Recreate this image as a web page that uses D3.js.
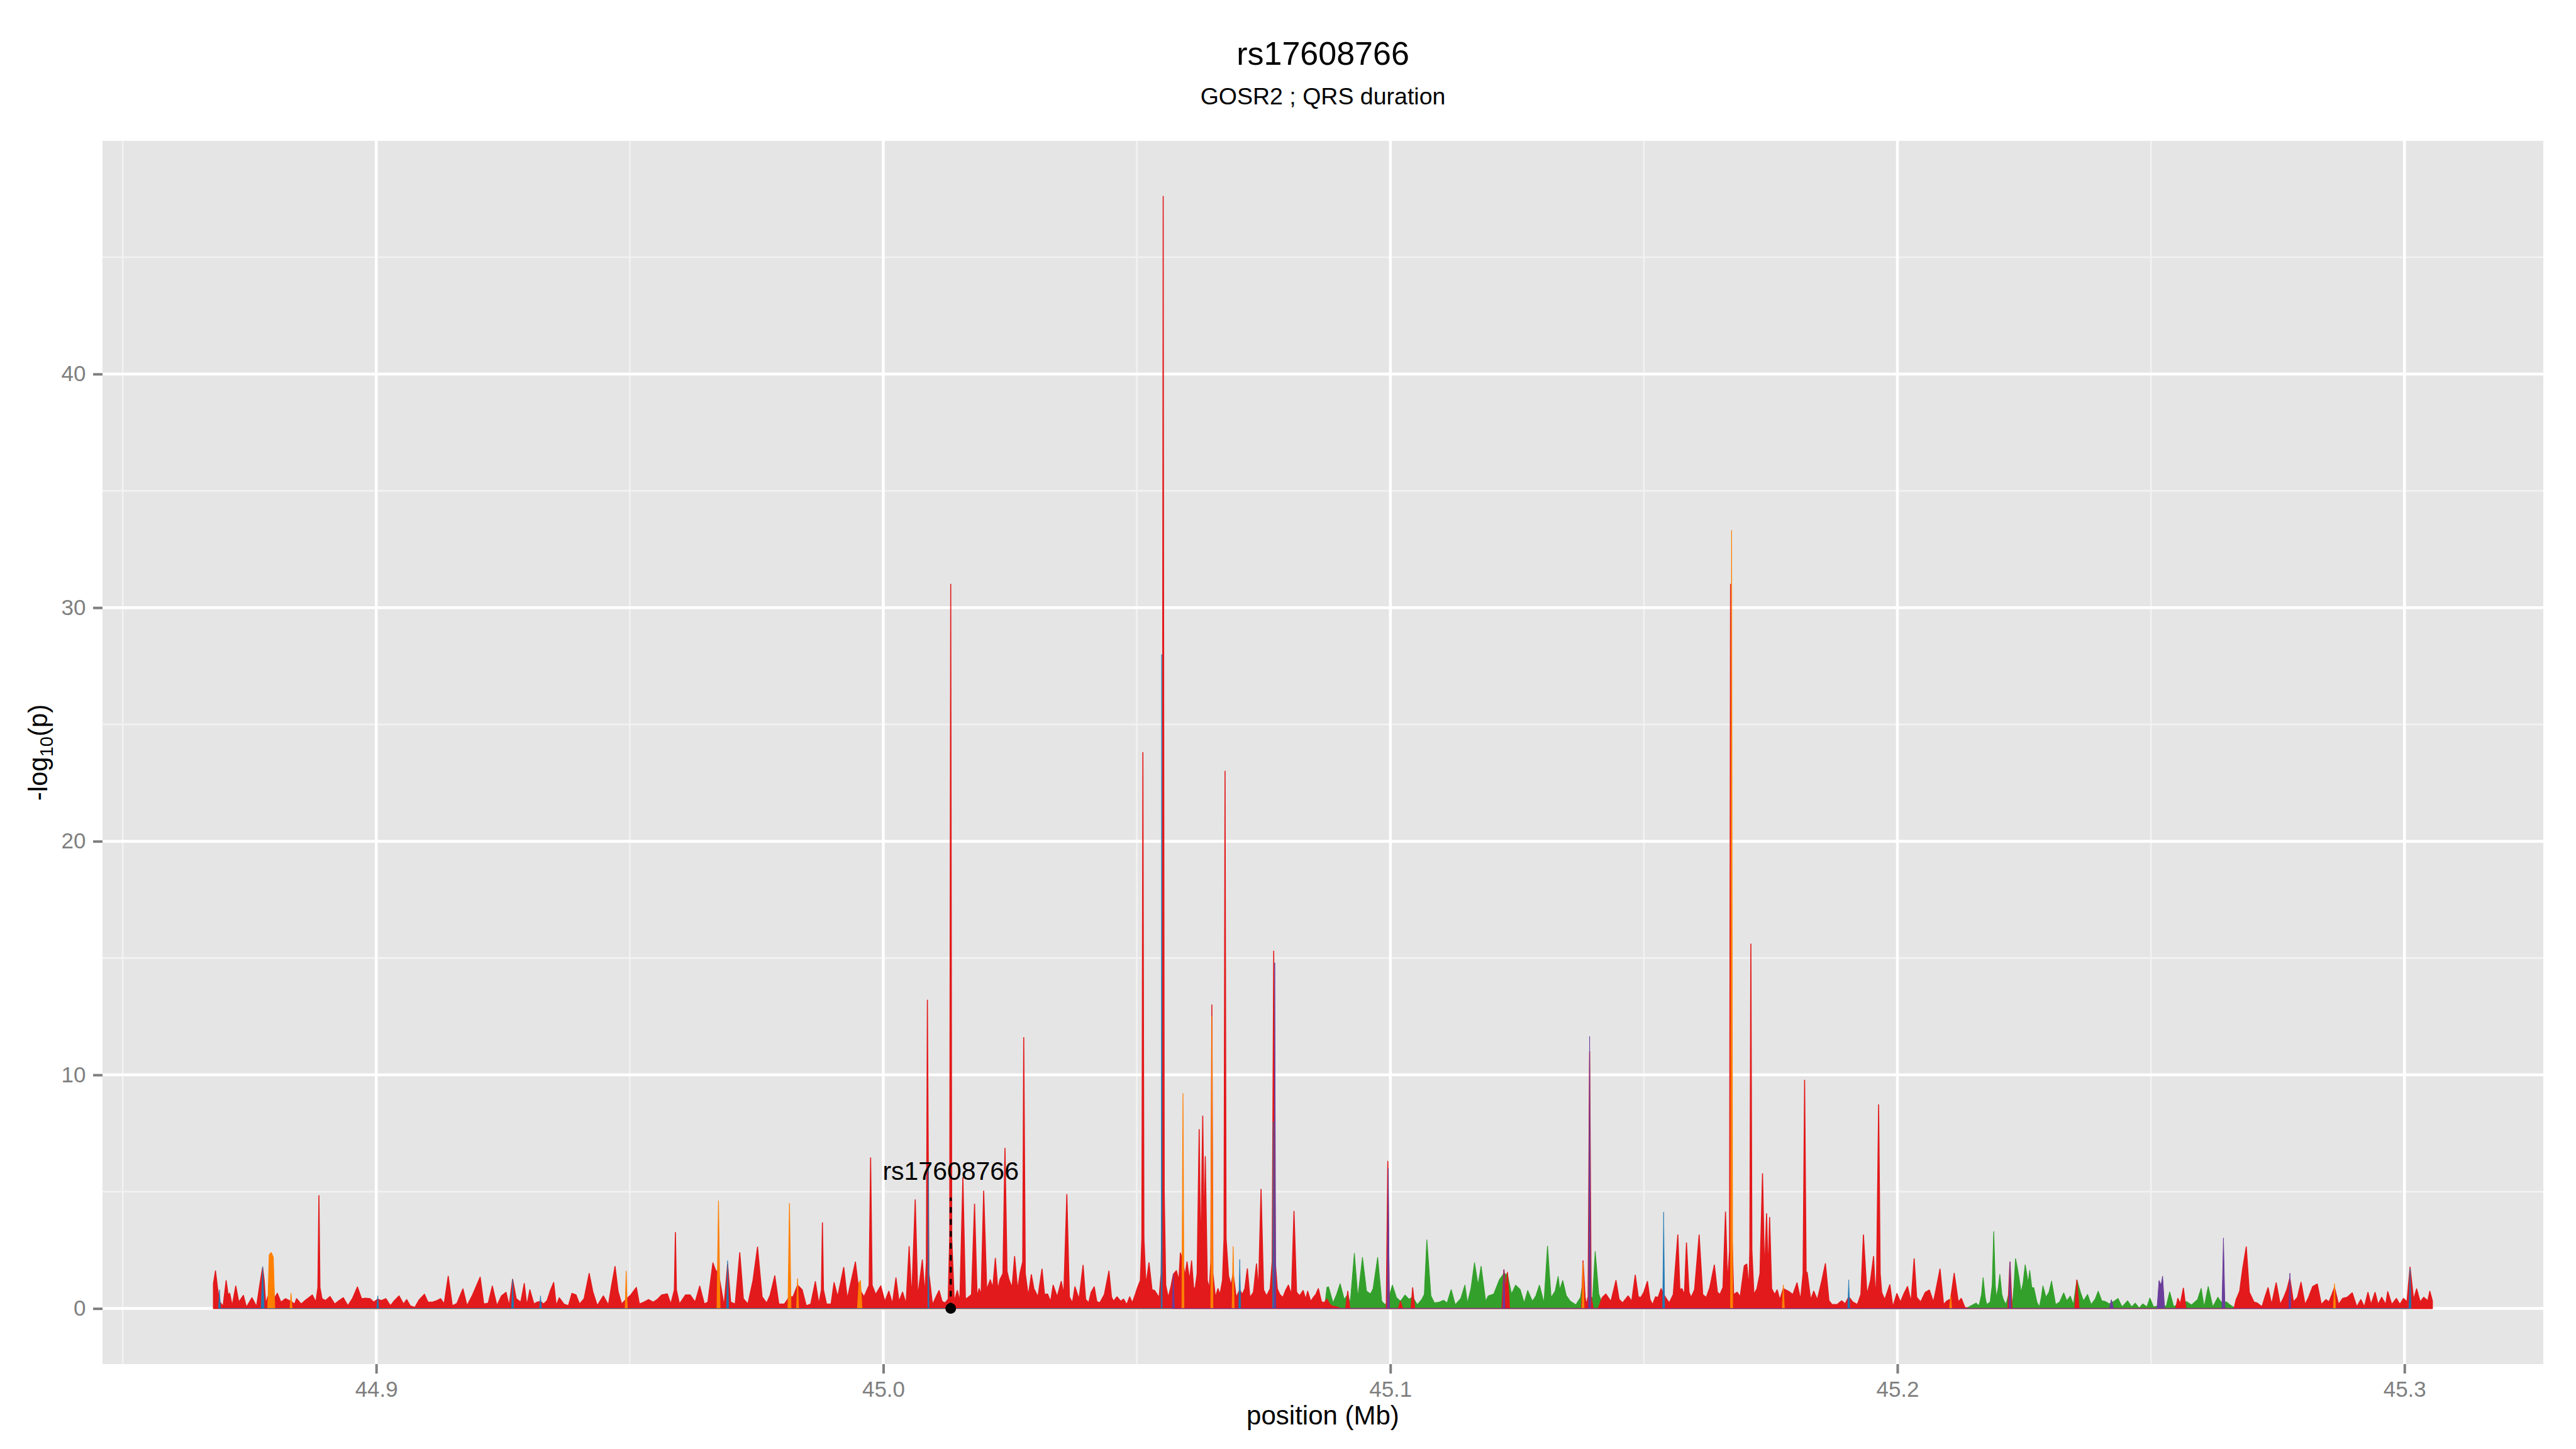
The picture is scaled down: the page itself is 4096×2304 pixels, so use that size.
<!DOCTYPE html>
<html>
<head>
<meta charset="utf-8">
<script src="https://cdn.jsdelivr.net/npm/d3@7"></script>
<style>
  body { margin: 0; background: #fff; }
  svg { display: block; font-family: "Liberation Sans", Arial, Helvetica, sans-serif; }
</style>
</head>
<body>
<div id="chart"></div>
<script>
const titleText = "rs17608766";
const subtitleText = "GOSR2 ; QRS duration";
const xTitle = "position (Mb)";
const snpName = "rs17608766";
const snpPos = 45.0133;
const snpLabelY = 5.9;
const snpLineTop = 4.75;

const xTicks = [44.9, 45.0, 45.1, 45.2, 45.3];
const xMinor = [44.85, 44.95, 45.05, 45.15, 45.25];
const yTicks = [0, 10, 20, 30, 40];
const yMinor = [5, 15, 25, 35, 45];

// [position (Mb), -log10(p)]
const greenSeries = [
  [45.0870,0],[45.0875,0.9],[45.0878,0.93],[45.0887,0.24],[45.0894,0.6],[45.0901,1.06],[45.0909,0.39],[45.0916,0.6],
  [45.0921,0.24],[45.0929,2.36],[45.0936,0.47],[45.0945,2.19],[45.0953,0.74],[45.0961,0.62],[45.0966,0.85],[45.0975,2.19],
  [45.0983,0.31],[45.0990,0.16],[45.0995,0.3],[45.1004,1.0],[45.1012,0.47],[45.1020,0.31],[45.1029,0.58],[45.1037,0.39],
  [45.1044,0.5],[45.1053,0.16],[45.1062,0.39],[45.1067,0.6],[45.1072,2.94],[45.1080,0.54],[45.1087,0.24],[45.1096,0.27],
  [45.1105,0.35],[45.1112,0.24],[45.1120,0.81],[45.1128,0.16],[45.1139,0.43],[45.1147,1.0],[45.1152,0.24],[45.1159,0.85],
  [45.1166,1.96],[45.1173,1.0],[45.1179,1.81],[45.1188,0.31],[45.1193,0.54],[45.1204,0.62],[45.1215,1.23],[45.1224,1.5],
  [45.1231,1.45],[45.1239,0.62],[45.1247,1.0],[45.1256,0.81],[45.1264,0.24],[45.1271,0.77],[45.1280,0.31],[45.1287,0.54],
  [45.1294,1.0],[45.1303,0.24],[45.1310,2.67],[45.1317,0.47],[45.1325,0.74],[45.1331,1.37],[45.1334,0.8],[45.1340,1.2],
  [45.1347,0.55],[45.1355,0.31],[45.1366,0.16],[45.1375,0.47],[45.1380,1.2],[45.1386,0.16],[45.1393,0.5],[45.1399,0.47],
  [45.1404,2.44],[45.1411,0.62],[45.1418,0.2],[45.1422,0],
  [45.2133,0],[45.2141,0.07],[45.2148,0.15],[45.2155,0.23],[45.2161,0.12],[45.2166,0.6],[45.2169,1.32],[45.2173,0.5],
  [45.2176,0.17],[45.2183,0.28],[45.2187,1.0],[45.2190,3.29],[45.2193,1.0],[45.2195,0.48],[45.2199,0.9],[45.2202,1.46],
  [45.2206,0.6],[45.2209,0.38],[45.2214,0.17],[45.2222,0.8],[45.2227,0.17],[45.2230,1.0],[45.2233,2.13],[45.2236,1.8],
  [45.2240,1.3],[45.2244,0.69],[45.2248,1.1],[45.2252,1.87],[45.2258,1.1],[45.2261,1.63],[45.2265,0.9],[45.2269,0.89],
  [45.2275,0.28],[45.2280,0.07],[45.2284,0.5],[45.2287,0.97],[45.2293,0.48],[45.2299,0.7],[45.2304,1.17],[45.2312,0.17],
  [45.2320,0.28],[45.2328,0.67],[45.2334,0.33],[45.2341,0.53],[45.2347,0.17],[45.2354,1.22],[45.2361,0.69],[45.2367,0.33],
  [45.2375,0.6],[45.2382,0.17],[45.2390,0.4],[45.2396,0.74],[45.2403,0.33],[45.2410,0.3],[45.2418,0.2],[45.2429,0.33],
  [45.2435,0.43],[45.2443,0.07],[45.2454,0.33],[45.2462,0.07],[45.2469,0.23],[45.2477,0.02],[45.2484,0.2],[45.2492,0.07],
  [45.2498,0.45],[45.2505,0.07],[45.2512,0.1],[45.2518,0.3],[45.2530,0.07],[45.2537,0.71],[45.2545,0.07],[45.2553,0.2],
  [45.2560,0.1],[45.2570,0.3],[45.2580,0.15],[45.2592,0.38],[45.2599,0.86],[45.2605,0.07],[45.2613,0.94],[45.2622,0.07],
  [45.2632,0.48],[45.2638,0.28],[45.2649,0.28],[45.2655,0.17],[45.2662,0.07],[45.2668,0]
];

const redSeries = [
  [44.8679,1.07],[44.8683,1.61],[44.8687,0.88],[44.8691,0.3],[44.8698,0.1],[44.8704,1.19],[44.8708,0.58],[44.8711,0.65],
  [44.8716,0.12],[44.8723,0.96],[44.8729,0.27],[44.8738,0.56],[44.8744,0.05],[44.8755,0.46],[44.8764,0.08],[44.8770,0.96],
  [44.8774,1.5],[44.8776,1.75],[44.8779,1.2],[44.8782,0.19],[44.8786,0.5],[44.8793,0.3],[44.8799,0.42],[44.8805,0.65],
  [44.8812,0.27],[44.8821,0.42],[44.8832,0.3],[44.8839,0.19],[44.8843,0.42],[44.8852,0.19],[44.8861,0.36],[44.8874,0.58],
  [44.8881,0.27],[44.8885,0.9],[44.8887,4.83],[44.8889,0.9],[44.8893,0.42],[44.8900,0.34],[44.8909,0.51],[44.8918,0.19],
  [44.8927,0.34],[44.8935,0.46],[44.8944,0.12],[44.8953,0.42],[44.8963,0.92],[44.8971,0.42],[44.8979,0.44],[44.8988,0.42],
  [44.8995,0.27],[44.9003,0.4],[44.9010,0.34],[44.9019,0.42],[44.9028,0.12],[44.9036,0.34],[44.9045,0.54],[44.9054,0.19],
  [44.9060,0.38],[44.9067,0.12],[44.9076,0.04],[44.9085,0.38],[44.9095,0.61],[44.9102,0.27],[44.9111,0.27],[44.9120,0.34],
  [44.9127,0.42],[44.9134,0.19],[44.9142,1.38],[44.9150,0.12],[44.9159,0.21],[44.9171,0.84],[44.9179,0.12],[44.9190,0.58],
  [44.9205,1.34],[44.9212,0.19],[44.9221,0.23],[44.9229,0.96],[44.9238,0.12],[44.9247,0.54],[44.9256,0.69],[44.9262,0.12],
  [44.9269,1.25],[44.9276,0.42],[44.9285,0.27],[44.9292,1.07],[44.9297,0.12],[44.9303,0.8],[44.9311,0.19],[44.9317,0.27],
  [44.9324,0.3],[44.9330,0.19],[44.9337,0.34],[44.9344,0.8],[44.9350,1.11],[44.9355,0.12],[44.9361,0.46],[44.9370,0.19],
  [44.9379,0.12],[44.9386,0.65],[44.9394,0.58],[44.9401,0.19],[44.9410,0.42],[44.9420,1.5],[44.9427,0.73],[44.9436,0.12],
  [44.9440,0.27],[44.9448,0.54],[44.9458,0.15],[44.9464,0.96],[44.9471,1.8],[44.9477,0.73],[44.9484,0.19],[44.9493,0.4],
  [44.9502,0.58],[44.9513,0.9],[44.9519,0.19],[44.9528,0.27],[44.9537,0.38],[44.9546,0.27],[44.9554,0.38],[44.9563,0.58],
  [44.9574,0.63],[44.9581,0.19],[44.9588,0.8],[44.9590,3.25],[44.9592,0.8],[44.9598,0.19],[44.9610,0.58],[44.9619,0.58],
  [44.9629,0.27],[44.9638,0.96],[44.9647,0.19],[44.9654,0.27],[44.9664,1.95],[44.9669,1.65],[44.9675,1.5],[44.9680,0.88],
  [44.9686,0.12],[44.9693,1.9],[44.9699,0.27],[44.9708,0.19],[44.9717,2.39],[44.9724,0.42],[44.9733,0.19],[44.9743,1.19],
  [44.9752,2.63],[44.9761,0.5],[44.9770,0.23],[44.9777,0.58],[44.9786,1.4],[44.9794,0.19],[44.9805,0.19],[44.9815,0.5],
  [44.9822,0.5],[44.9831,1.0],[44.9840,0.8],[44.9848,0.12],[44.9857,0.19],[44.9866,1.15],[44.9873,0.19],[44.9878,0.8],
  [44.9880,3.67],[44.9882,0.8],[44.9888,0.19],[44.9897,0.19],[44.9903,1.11],[44.9910,0.5],[44.9922,1.76],[44.9929,0.42],
  [44.9936,1.11],[44.9945,1.99],[44.9951,0.9],[44.9962,0.5],[44.9972,1.0],[44.9975,6.45],[44.9978,1.0],[44.9985,0.6],
  [44.9995,0.97],[45.0003,0.3],[45.0011,0.74],[45.0018,0.2],[45.0025,1.31],[45.0031,0.3],[45.0038,0.7],[45.0045,0.2],
  [45.0051,2.65],[45.0056,0.4],[45.0063,4.65],[45.0068,0.5],[45.0077,2.08],[45.0082,0.6],[45.0085,2.0],[45.0087,13.2],
  [45.0090,1.5],[45.0097,0.16],[45.0104,0.5],[45.0110,0.77],[45.0116,0.3],[45.0122,0.24],[45.0128,0.4],[45.0131,3.0],
  [45.0133,31.0],[45.0135,3.0],[45.0140,0.3],[45.0146,0.77],[45.0151,0.3],[45.0157,5.6],[45.0162,0.4],[45.0167,0.47],
  [45.0174,0.6],[45.0180,4.47],[45.0185,0.5],[45.0189,0.85],[45.0193,0.6],[45.0198,5.03],[45.0204,0.8],[45.0211,1.23],
  [45.0216,0.9],[45.0221,2.15],[45.0226,0.8],[45.0230,1.23],[45.0236,1.5],[45.0240,6.86],[45.0244,1.6],[45.0248,1.23],
  [45.0254,0.9],[45.0259,2.23],[45.0265,0.8],[45.0270,1.54],[45.0275,2.0],[45.0277,11.6],[45.0280,1.5],[45.0286,0.54],
  [45.0292,1.45],[45.0297,0.85],[45.0305,0.5],[45.0313,1.69],[45.0318,0.6],[45.0324,0.62],[45.0330,0.3],[45.0335,1.0],
  [45.0343,0.5],[45.0351,1.16],[45.0356,0.6],[45.0362,4.88],[45.0367,0.5],[45.0373,0.24],[45.0378,0.93],[45.0386,0.4],
  [45.0394,1.85],[45.0399,0.4],[45.0405,0.24],[45.0410,0.7],[45.0416,0.93],[45.0421,0.3],[45.0427,0.24],[45.0436,0.6],
  [45.0445,1.6],[45.0450,0.5],[45.0454,0.31],[45.0461,0.5],[45.0468,0.31],[45.0474,0.4],[45.0480,0.16],[45.0486,0.5],
  [45.0491,0.24],[45.0497,0.6],[45.0502,0.93],[45.0507,1.2],[45.0510,3.0],[45.0512,23.8],[45.0514,3.0],[45.0518,1.0],
  [45.0524,1.96],[45.0530,0.8],[45.0535,0.77],[45.0540,0.6],[45.0544,0.47],[45.0548,1.5],[45.0550,5.0],[45.0552,47.6],
  [45.0554,5.0],[45.0557,1.0],[45.0562,0.47],[45.0567,0.9],[45.0572,1.46],[45.0578,1.62],[45.0583,1.2],[45.0586,2.38],
  [45.0591,2.0],[45.0595,1.4],[45.0599,2.0],[45.0604,1.2],[45.0608,2.04],[45.0612,0.9],[45.0615,0.85],[45.0619,1.5],
  [45.0623,7.66],[45.0626,2.0],[45.0630,8.24],[45.0633,3.0],[45.0635,6.5],[45.0639,1.2],[45.0643,0.85],[45.0646,2.0],
  [45.0648,13.0],[45.0650,1.5],[45.0655,0.47],[45.0660,0.85],[45.0664,0.6],[45.0669,1.2],[45.0672,3.0],[45.0674,23.0],
  [45.0676,3.0],[45.0681,1.39],[45.0686,1.0],[45.0690,1.5],[45.0696,0.47],[45.0703,0.8],[45.0708,0.6],[45.0713,0.85],
  [45.0718,1.7],[45.0723,0.47],[45.0730,0.7],[45.0736,1.91],[45.0740,0.8],[45.0745,5.1],[45.0750,0.8],[45.0756,0.54],
  [45.0763,0.85],[45.0767,2.0],[45.0770,15.3],[45.0773,2.0],[45.0777,0.85],[45.0782,0.6],[45.0788,0.47],[45.0794,0.8],
  [45.0799,1.0],[45.0805,0.6],[45.0810,4.16],[45.0815,0.7],[45.0821,0.54],[45.0828,0.77],[45.0833,0.4],[45.0837,0.74],
  [45.0843,0.3],[45.0848,0.47],[45.0853,0.6],[45.0858,0.85],[45.0864,0.3],[45.0869,0.24],[45.0875,0.4],[45.0880,0.2],
  [45.0885,0.1],[45.0891,0.08],[45.0902,0],
  [45.0912,0],[45.0916,0.74],[45.0920,0],[45.0992,0],[45.0995,6.3],[45.0998,0],[45.1016,0],[45.1020,0.3],[45.1024,0],
  [45.1041,0],[45.1044,0.89],[45.1048,0],[45.1220,0],[45.1224,1.66],[45.1228,0.8],[45.1231,1.54],[45.1235,0],
  [45.1377,0],[45.1380,2.04],[45.1384,0.5],[45.1386,0.16],[45.1390,0.5],[45.1393,11.0],[45.1396,0.5],[45.1400,0],
  [45.1410,0],[45.1418,0.47],[45.1425,0.62],[45.1435,0.3],[45.1445,1.2],[45.1451,0.4],[45.1458,0.24],[45.1469,0.54],
  [45.1476,0.3],[45.1483,1.43],[45.1489,0.5],[45.1494,0.47],[45.1500,0.7],[45.1507,1.16],[45.1512,0.4],[45.1517,0.16],
  [45.1523,0.5],[45.1528,0.47],[45.1534,0.85],[45.1539,0.6],[45.1545,0.4],[45.1550,0.24],[45.1558,0.6],[45.1567,3.15],
  [45.1571,0.8],[45.1575,0.85],[45.1580,0.6],[45.1584,2.81],[45.1589,0.7],[45.1593,0.47],[45.1600,0.8],[45.1609,3.15],
  [45.1616,0.6],[45.1623,0.47],[45.1630,0.9],[45.1639,1.86],[45.1645,0.7],[45.1650,0.6],[45.1656,0.9],[45.1661,4.13],
  [45.1665,1.1],[45.1669,2.5],[45.1671,31.0],[45.1674,3.0],[45.1677,0.6],[45.1684,0.7],[45.1690,0.5],[45.1698,1.83],
  [45.1703,1.9],[45.1707,0.85],[45.1709,2.5],[45.1711,15.6],[45.1713,2.5],[45.1717,0.6],[45.1723,0.85],[45.1729,1.5],
  [45.1734,5.77],[45.1738,1.5],[45.1742,4.06],[45.1745,1.5],[45.1748,3.9],[45.1752,0.85],[45.1758,0.6],[45.1763,0.8],
  [45.1768,0.37],[45.1775,0.85],[45.1785,0.74],[45.1794,0.6],[45.1802,1.1],[45.1809,0.37],[45.1814,1.5],[45.1817,9.77],
  [45.1820,1.5],[45.1822,1.55],[45.1829,0.37],[45.1835,0.74],[45.1842,0.37],[45.1851,1.2],[45.1858,1.92],[45.1865,0.33],
  [45.1871,0.17],[45.1881,0.17],[45.1890,0.33],[45.1897,0.2],[45.1904,0.5],[45.1912,0.28],[45.1921,0.17],[45.1928,0.6],
  [45.1933,3.15],[45.1940,0.6],[45.1947,1.2],[45.1953,2.23],[45.1957,0.4],[45.1959,1.5],[45.1963,8.72],[45.1966,1.5],
  [45.1969,0.69],[45.1975,0.38],[45.1985,1.02],[45.1991,0.07],[45.1999,0.64],[45.2006,0.28],[45.2013,0.64],[45.2020,0.94],
  [45.2027,0.28],[45.2033,2.13],[45.2038,0.48],[45.2046,0.28],[45.2055,0.69],[45.2063,0.79],[45.2071,0.28],[45.2076,0.79],
  [45.2084,1.69],[45.2091,0.17],[45.2098,0.33],[45.2105,0.4],[45.2112,1.51],[45.2120,0.28],[45.2126,0.43],[45.2133,0.05],
  [45.2140,0],[45.2218,0],[45.2222,1.99],[45.2226,0],[45.2350,0],[45.2354,1.22],[45.2358,0],[45.2549,0],[45.2553,0.43],
  [45.2558,0.2],[45.2564,0.87],[45.2569,0],[45.2664,0],
  [45.2668,0.38],[45.2675,0.74],[45.2681,1.71],[45.2688,2.64],[45.2694,0.69],[45.2703,0.28],[45.2710,0.23],[45.2719,0.07],
  [45.2725,0.5],[45.2731,0.89],[45.2738,0.17],[45.2747,1.1],[45.2755,0.17],[45.2762,0.48],[45.2768,0.8],[45.2774,1.3],
  [45.2781,0.28],[45.2789,0.48],[45.2796,1.12],[45.2804,0.17],[45.2811,0.48],[45.2819,0.94],[45.2828,1.05],[45.2836,0.17],
  [45.2845,0.38],[45.2851,0.28],[45.2857,0.6],[45.2862,0.9],[45.2870,0.17],[45.2878,0.43],[45.2887,0.48],[45.2897,0.67],
  [45.2906,0.07],[45.2914,0.38],[45.2921,0.07],[45.2928,0.69],[45.2934,0.17],[45.2942,0.69],[45.2948,0.17],[45.2955,0.48],
  [45.2963,0.17],[45.2967,0.72],[45.2975,0.17],[45.2984,0.43],[45.2991,0.17],[45.2998,0.43],[45.3005,0.28],[45.3011,1.77],
  [45.3018,0.38],[45.3024,0.84],[45.3031,0.28],[45.3038,0.48],[45.3046,0.33],[45.3050,0.74],[45.3055,0.33]
];

const orangeSeries = [
  [44.8786,0],[44.8789,2.3],[44.8793,2.4],[44.8797,2.2],[44.8800,0],
  [44.8830,0],[44.8832,0.65],[44.8834,0],
  [44.9491,0],[44.9493,1.6],[44.9495,0],
  [44.9672,0],[44.9675,4.6],[44.9678,0],
  [44.9812,0],[44.9815,4.5],[44.9818,0],
  [44.9829,0],[44.9831,1.28],[44.9833,0],
  [44.9949,0],[44.9952,1.1],[44.9955,1.2],[44.9958,0],
  [45.0589,0],[45.0591,9.2],[45.0593,0],
  [45.0646,0],[45.0648,12.5],[45.0650,0],
  [45.0688,0],[45.0690,2.65],[45.0692,0],
  [45.1378,0],[45.1380,1.95],[45.1382,0],
  [45.1671,0],[45.1673,33.3],[45.1675,0],
  [45.1773,0],[45.1775,1.0],[45.1777,0],
  [45.2103,0],[45.2105,0.55],[45.2107,0],
  [45.2860,0],[45.2862,1.05],[45.2864,0]
];

const blueSeries = [
  [44.8689,0],[44.8691,0.8],[44.8693,0],
  [44.8773,0],[44.8776,1.8],[44.8779,0],
  [44.9001,0],[44.9003,0.55],[44.9005,0],
  [44.9267,0],[44.9269,1.25],[44.9271,0],
  [44.9322,0],[44.9324,0.55],[44.9326,0],
  [44.9691,0],[44.9693,2.05],[44.9695,0],
  [45.0088,0],[45.0089,6.0],[45.0090,0],
  [45.0548,0],[45.0549,28.0],[45.0550,0],
  [45.0701,0],[45.0703,2.1],[45.0705,0],
  [45.0768,0],[45.0769,8.0],[45.0770,0],
  [45.1537,0],[45.1539,4.13],[45.1541,0],
  [45.1902,0],[45.1904,1.23],[45.1906,0],
  [45.3009,0],[45.3011,1.7],[45.3013,0]
];

const purpleSeries = [
  [45.0570,0],[45.0572,1.46],[45.0574,0],
  [45.0771,0],[45.0772,14.8],[45.0774,0],
  [45.0994,0],[45.0996,6.0],[45.0998,0],
  [45.1222,0],[45.1224,1.66],[45.1226,0],
  [45.1391,0],[45.1393,11.65],[45.1395,0],
  [45.2220,0],[45.2222,1.99],[45.2224,0],
  [45.2418,0],[45.2422,0.38],[45.2426,0],
  [45.2512,0],[45.2516,1.2],[45.2520,1.0],[45.2523,1.39],[45.2527,0],
  [45.2640,0],[45.2643,3.02],[45.2646,0],
  [45.2772,0],[45.2774,1.51],[45.2776,0]
];

const layers = [
  { name: "green", color: "#33A02C", data: greenSeries, line: 1.2 },
  { name: "red", color: "#E31A1C", data: redSeries, line: 1.6 },
  { name: "orange", color: "#FF7F00", data: orangeSeries, line: 1.2 },
  { name: "blue", color: "#1F78B4", data: blueSeries, line: 0.8 },
  { name: "purple", color: "#6A3D9A", data: purpleSeries, line: 1.0 }
];

const width = 4096, height = 2304;
const margin = { top: 224, right: 52, bottom: 135, left: 163 };
const panelW = width - margin.left - margin.right;
const panelH = height - margin.top - margin.bottom;

const svg = d3.select("#chart").append("svg")
  .attr("width", width)
  .attr("height", height);

svg.append("rect").attr("width", width).attr("height", height).attr("fill", "#fff");

// ggplot-like 5% expansion
const allPts = layers.flatMap(l => l.data);
const xExt = d3.extent(redSeries, d => d[0]);
const xPad = (xExt[1] - xExt[0]) * 0.05;
const yMax = d3.max(allPts, d => d[1]);
const yPad = yMax * 0.05;

const x = d3.scaleLinear()
  .domain([xExt[0] - xPad, xExt[1] + xPad])
  .range([margin.left, margin.left + panelW]);

const y = d3.scaleLinear()
  .domain([-yPad, yMax + yPad])
  .range([margin.top + panelH, margin.top]);

svg.append("clipPath").attr("id", "panel-clip")
  .append("rect")
  .attr("x", margin.left).attr("y", margin.top)
  .attr("width", panelW).attr("height", panelH);

svg.append("rect")
  .attr("x", margin.left).attr("y", margin.top)
  .attr("width", panelW).attr("height", panelH)
  .attr("fill", "#E5E5E5");

const grid = svg.append("g");

grid.selectAll(".xminor").data(xMinor).join("line")
  .attr("x1", d => x(d)).attr("x2", d => x(d))
  .attr("y1", margin.top).attr("y2", margin.top + panelH)
  .attr("stroke", "#F2F2F2").attr("stroke-width", 2.6);

grid.selectAll(".yminor").data(yMinor).join("line")
  .attr("y1", d => y(d)).attr("y2", d => y(d))
  .attr("x1", margin.left).attr("x2", margin.left + panelW)
  .attr("stroke", "#F2F2F2").attr("stroke-width", 2.6);

grid.selectAll(".xmajor").data(xTicks).join("line")
  .attr("x1", d => x(d)).attr("x2", d => x(d))
  .attr("y1", margin.top).attr("y2", margin.top + panelH)
  .attr("stroke", "#fff").attr("stroke-width", 4.5);

grid.selectAll(".ymajor").data(yTicks).join("line")
  .attr("y1", d => y(d)).attr("y2", d => y(d))
  .attr("x1", margin.left).attr("x2", margin.left + panelW)
  .attr("stroke", "#fff").attr("stroke-width", 4.5);

const area = d3.area()
  .x(d => x(d[0]))
  .y0(y(0))
  .y1(d => y(d[1]));

svg.append("g")
  .attr("clip-path", "url(#panel-clip)")
  .selectAll("path")
  .data(layers)
  .join("path")
  .attr("d", d => area(d.data))
  .attr("fill", d => d.color)
  .attr("stroke", d => d.color)
  .attr("stroke-width", d => d.line)
  .attr("stroke-linejoin", "round");

// marked SNP
svg.append("line")
  .attr("x1", x(snpPos)).attr("x2", x(snpPos))
  .attr("y1", y(0)).attr("y2", y(snpLineTop))
  .attr("stroke", "#000").attr("stroke-width", 3.4)
  .attr("stroke-dasharray", "9,10");

svg.append("circle")
  .attr("cx", x(snpPos)).attr("cy", y(0)).attr("r", 8.5)
  .attr("fill", "#000");

svg.append("text")
  .attr("x", x(snpPos)).attr("y", y(snpLabelY))
  .attr("dy", "0.36em")
  .attr("text-anchor", "middle")
  .style("font-size", "41px")
  .attr("fill", "#000")
  .text(snpName);

// axes
const xAxis = g => g
  .attr("transform", `translate(0, ${margin.top + panelH})`)
  .call(d3.axisBottom(x).tickValues(xTicks).tickSize(15).tickPadding(12)
    .tickFormat(d3.format(".1f")))
  .call(g => g.select(".domain").remove())
  .call(g => g.selectAll("line").attr("stroke", "#7F7F7F").attr("stroke-width", 4))
  .call(g => g.selectAll("text").attr("fill", "#7F7F7F").style("font-size", "35px")
    .attr("font-family", "'Liberation Sans', Arial, sans-serif"));

const yAxis = g => g
  .attr("transform", `translate(${margin.left}, 0)`)
  .call(d3.axisLeft(y).tickValues(yTicks).tickSize(15).tickPadding(11.5))
  .call(g => g.select(".domain").remove())
  .call(g => g.selectAll("line").attr("stroke", "#7F7F7F").attr("stroke-width", 4))
  .call(g => g.selectAll("text").attr("fill", "#7F7F7F").style("font-size", "35px")
    .attr("font-family", "'Liberation Sans', Arial, sans-serif"));

svg.append("g").call(xAxis);
svg.append("g").call(yAxis);

// titles
const cx = margin.left + panelW / 2;

svg.append("text")
  .attr("x", cx).attr("y", 103)
  .attr("text-anchor", "middle")
  .style("font-size", "52px")
  .text(titleText);

svg.append("text")
  .attr("x", cx).attr("y", 166)
  .attr("text-anchor", "middle")
  .style("font-size", "37.5px")
  .text(subtitleText);

svg.append("text")
  .attr("x", cx).attr("y", 2265)
  .attr("text-anchor", "middle")
  .style("font-size", "42px")
  .text(xTitle);

const yTitle = svg.append("text")
  .attr("transform", `translate(75, ${margin.top + panelH / 2}) rotate(-90)`)
  .attr("text-anchor", "middle")
  .style("font-size", "42px");
yTitle.append("tspan").text("-log");
yTitle.append("tspan").attr("dy", 9).style("font-size", "29px").text("10");
yTitle.append("tspan").attr("dy", -9).text("(p)");
</script>
</body>
</html>
